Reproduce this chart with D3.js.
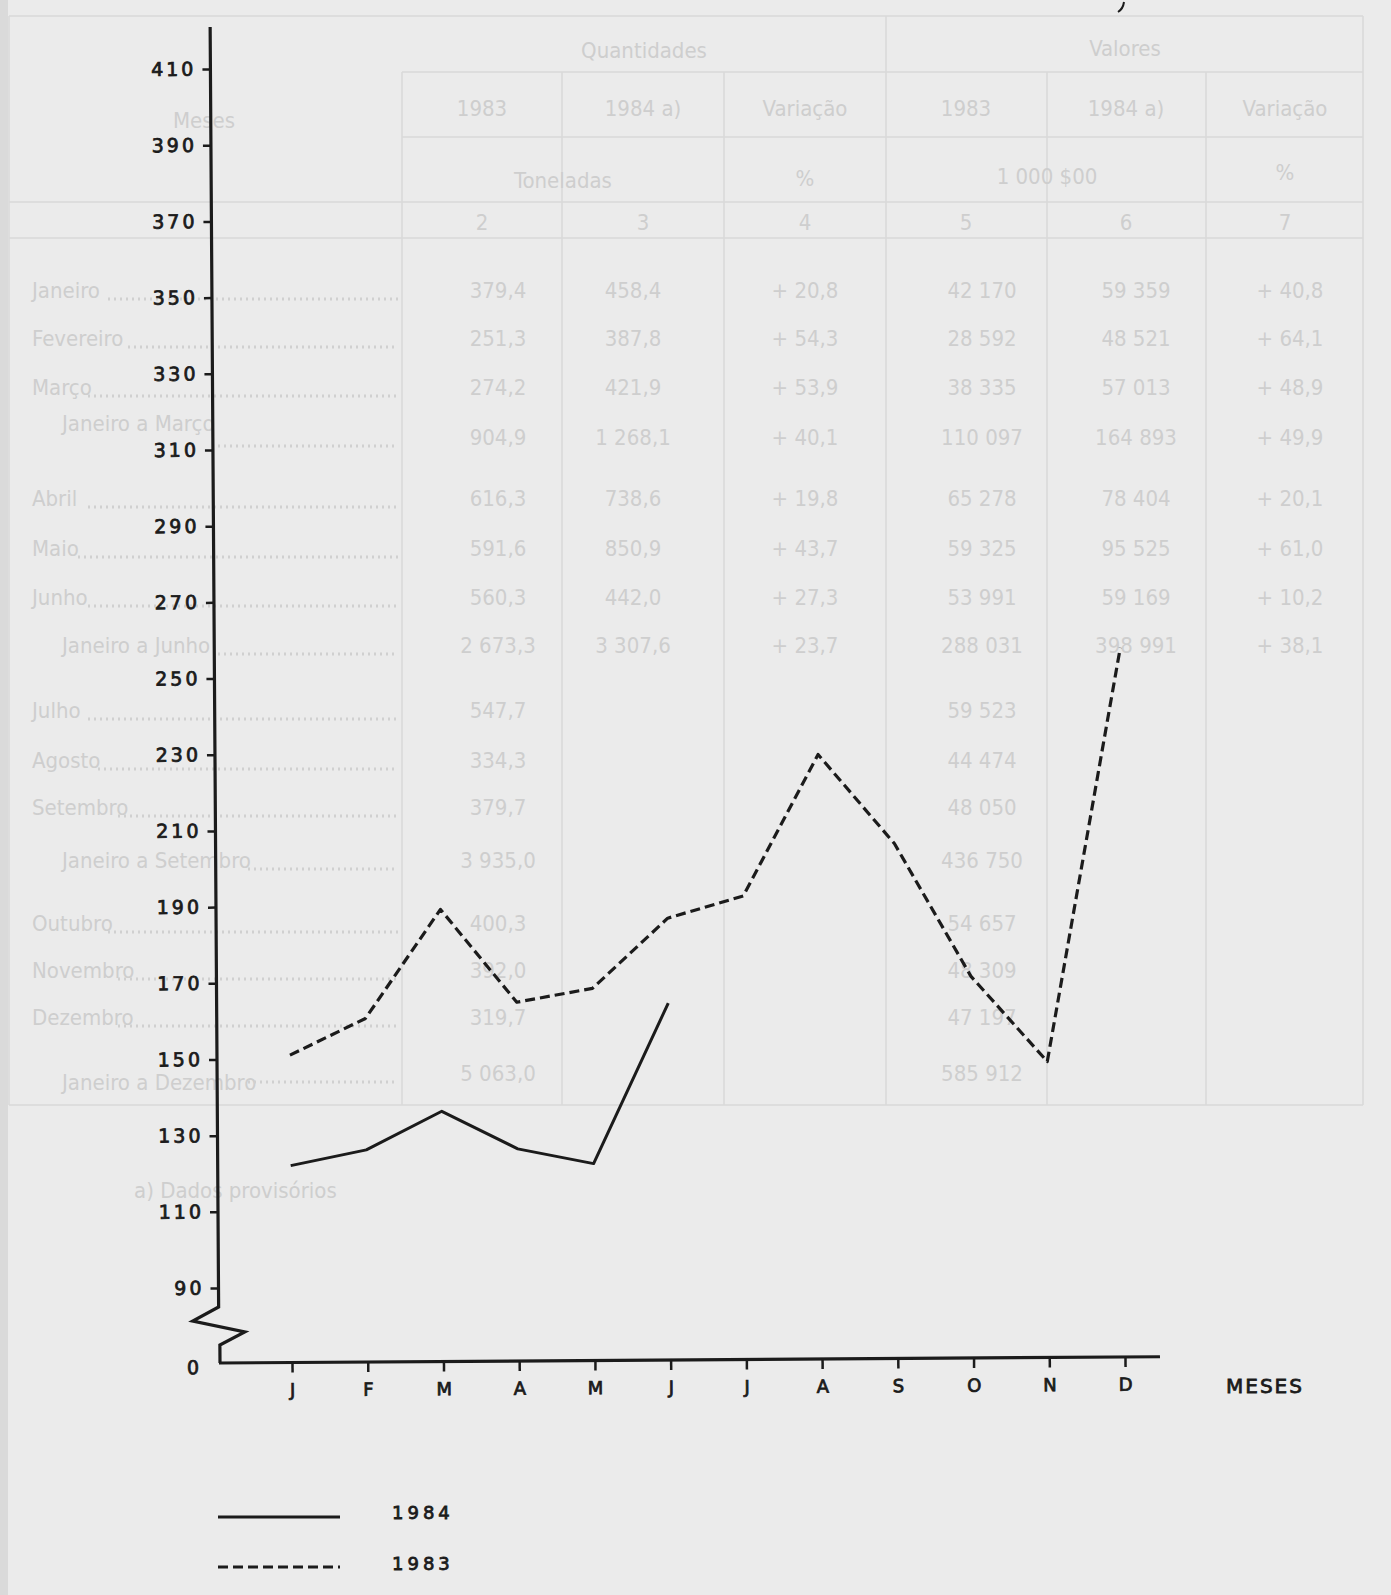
<!DOCTYPE html>
<html>
<head>
<meta charset="utf-8">
<script src="https://cdn.jsdelivr.net/npm/d3@7"></script>
<style>
  html, body { margin: 0; padding: 0; background: #ebebeb; }
  svg { display: block; }
</style>
</head>
<body>
<svg id="chart" width="1391" height="1595"></svg>
<script>
// ---------- chart data ----------
const months = ["J","F","M","A","M","J","J","A","S","O","N","D"];
const values1983 = [151, 160.5, 189, 164.5, 168, 186.3, 192, 229, 205.5, 170.5, 148, 256.5];
const values1984 = [122, 126, 136, 126, 122, 164];
const yTicks = [410, 390, 370, 350, 330, 310, 290, 270, 250, 230, 210, 190, 170, 150, 130, 110, 90, 0];
const legendLabels = ["1984", "1983"];
const xTitle = "MESES";

// ---------- ghost (show-through) table ----------
const ghostColHeads = ["1983", "1984 a)", "Variação", "1983", "1984 a)", "Variação"];
const ghostGroupHeads = ["Quantidades", "Valores"];
const ghostUnits = ["Toneladas", "%", "1 000 $00", "%"];
const ghostColNums = ["2", "3", "4", "5", "6", "7"];
const ghostRowLabels = ["Janeiro", "Fevereiro", "Março", "  Janeiro a Março", "Abril", "Maio", "Junho",
  "  Janeiro a Junho", "Julho", "Agosto", "Setembro", "  Janeiro a Setembro", "Outubro", "Novembro",
  "Dezembro", "  Janeiro a Dezembro"];
const ghostCells = [
  ["379,4", "458,4", "+ 20,8", "42 170", "59 359", "+ 40,8"],
  ["251,3", "387,8", "+ 54,3", "28 592", "48 521", "+ 64,1"],
  ["274,2", "421,9", "+ 53,9", "38 335", "57 013", "+ 48,9"],
  ["904,9", "1 268,1", "+ 40,1", "110 097", "164 893", "+ 49,9"],
  ["616,3", "738,6", "+ 19,8", "65 278", "78 404", "+ 20,1"],
  ["591,6", "850,9", "+ 43,7", "59 325", "95 525", "+ 61,0"],
  ["560,3", "442,0", "+ 27,3", "53 991", "59 169", "+ 10,2"],
  ["2 673,3", "3 307,6", "+ 23,7", "288 031", "398 991", "+ 38,1"],
  ["547,7", "", "", "59 523", "", ""],
  ["334,3", "", "", "44 474", "", ""],
  ["379,7", "", "", "48 050", "", ""],
  ["3 935,0", "", "", "436 750", "", ""],
  ["400,3", "", "", "54 657", "", ""],
  ["392,0", "", "", "48 309", "", ""],
  ["319,7", "", "", "47 197", "", ""],
  ["5 063,0", "", "", "585 912", "", ""]
];
const ghostFootnote = "a) Dados provisórios";

const svg = d3.select("#chart");

// background
svg.append("rect").attr("width", 1391).attr("height", 1595).attr("fill", "#ebebeb");
svg.append("rect").attr("width", 8).attr("height", 1595).attr("fill", "#dadada");

// ---------- ghost table ----------
const ghost = svg.append("g").attr("fill", "#cecece").attr("stroke", "none");
const colEdges = [9, 402, 562, 724, 886, 1047, 1206, 1363];
const gl = ghost.append("g").attr("stroke", "#d9d9d9").attr("stroke-width", 1.5);
colEdges.forEach((x, i) => {
  gl.append("line").attr("x1", x).attr("x2", x)
    .attr("y1", i === 0 || i === 7 || i === 4 ? 16 : 72).attr("y2", 1105);
});
[[9, 1363, 16], [402, 1363, 72], [402, 1363, 137], [9, 1363, 202], [9, 1363, 238], [9, 1363, 1105]]
  .forEach(([x1, x2, y]) => gl.append("line").attr("x1", x1).attr("x2", x2).attr("y1", y).attr("y2", y));

const gFont = "'Liberation Sans Narrow','DejaVu Sans Condensed','Liberation Sans',sans-serif";
const gText = (x, y, t, anchor) => ghost.append("text").attr("x", x).attr("y", y)
  .attr("text-anchor", anchor || "middle").attr("dominant-baseline", "central")
  .attr("font-family", gFont).attr("font-size", 22).attr("font-stretch", "condensed").text(t);

gText(204, 120, "Meses");
gText(644, 50, ghostGroupHeads[0]);
gText(1125, 48, ghostGroupHeads[1]);
const colCenters = [482, 643, 805, 966, 1126, 1285];
ghostColHeads.forEach((t, i) => gText(colCenters[i], 108, t));
gText(563, 180, ghostUnits[0]);
gText(805, 178, ghostUnits[1]);
gText(1047, 176, ghostUnits[2]);
gText(1285, 172, ghostUnits[3]);
ghostColNums.forEach((t, i) => gText(colCenters[i], 222, t));

const rowY = [290, 338, 387, 437, 498, 548, 597, 645, 710, 760, 807, 860, 923, 970, 1017, 1073];
const labelY = [290, 338, 387, 423, 498, 548, 597, 645, 710, 760, 807, 860, 923, 970, 1017, 1082];
const cellX = [498, 633, 805, 982, 1136, 1290];
ghostRowLabels.forEach((lab, r) => {
  const indent = lab.startsWith("  ") ? 62 : 32;
  const name = lab.trim();
  gText(indent, labelY[r], name, "start");
  // dotted leader
  const startX = indent + name.length * 10 + 6;
  ghost.append("line").attr("x1", startX).attr("x2", 398)
    .attr("y1", rowY[r] + 9).attr("y2", rowY[r] + 9)
    .attr("stroke", "#d0d0d0").attr("stroke-width", 3).attr("stroke-dasharray", "2,4");
  ghostCells[r].forEach((c, j) => { if (c) gText(cellX[j], rowY[r], c); });
});
gText(134, 1190, ghostFootnote, "start");

// ---------- chart ----------
const ink = "#1b1b1b";
const axisX = 219;
const y = d3.scaleLinear().domain([0, 90, 410]).range([1363, 1288, 69]);
const x = d3.scalePoint().domain(d3.range(12)).range([292, 1125]);

const chart = svg.append("g").attr("transform", `rotate(-0.38, ${axisX}, ${y(0)})`);

const labelStyle = sel => sel.attr("fill", ink).attr("stroke", ink).attr("stroke-width", 0.8)
  .attr("font-family", "'DejaVu Sans', sans-serif");

// y axis ticks and labels
const yAxis = d3.axisLeft(y).tickValues(yTicks).tickSize(8).tickPadding(14).tickFormat(d3.format("d"));
const yg = chart.append("g").attr("transform", `translate(${axisX},0)`).call(yAxis);
yg.select(".domain").remove();
yg.selectAll(".tick line").attr("stroke", ink).attr("stroke-width", 2.5)
  .filter(d => d === 0).remove();
yg.selectAll(".tick text").call(labelStyle)
  .attr("font-size", 19).attr("letter-spacing", 3)
  .attr("dy", d => d === 0 ? "0.55em" : "0.32em")
  .attr("x", d => d === 0 ? -17 : -14);

// y axis line with break
const breakTop = 1307;
const axisPath = [
  [axisX, 27], [axisX, breakTop], [axisX - 26, breakTop + 14], [axisX + 26, breakTop + 25],
  [axisX + 1, breakTop + 38], [axisX + 1, y(0)]
];
chart.append("path").attr("d", d3.line()(axisPath))
  .attr("fill", "none").attr("stroke", ink).attr("stroke-width", 3.2).attr("stroke-linejoin", "miter");

// x axis
chart.append("line").attr("x1", axisX).attr("x2", 1160).attr("y1", y(0)).attr("y2", y(0))
  .attr("stroke", ink).attr("stroke-width", 3.2);
const xAxis = d3.axisBottom(x).tickSize(10).tickPadding(11).tickFormat(i => months[i]);
const xg = chart.append("g").attr("transform", `translate(0,${y(0)})`).call(xAxis);
xg.select(".domain").remove();
xg.selectAll(".tick line").attr("stroke", ink).attr("stroke-width", 2.5);
xg.selectAll(".tick text").call(labelStyle).attr("font-size", 18);

// data lines
const line = d3.line().x((d, i) => x(i)).y(d => y(d));
chart.append("path").datum(values1983).attr("d", line)
  .attr("fill", "none").attr("stroke", ink).attr("stroke-width", 3.2)
  .attr("stroke-dasharray", "10,5").attr("stroke-linejoin", "round");
chart.append("path").datum(values1984).attr("d", line)
  .attr("fill", "none").attr("stroke", ink).attr("stroke-width", 3)
  .attr("stroke-linejoin", "round");

// x title (outside rotation)
svg.append("text").attr("x", 1226).attr("y", 1393).call(labelStyle)
  .attr("font-size", 20).attr("letter-spacing", 2)
  .text(xTitle);

// legend
const legend = svg.append("g");
[[1517, null, 1519], [1567, "10,5", 1570]].forEach(([ly, dash, ty], i) => {
  const l = legend.append("line").attr("x1", 218).attr("x2", 340).attr("y1", ly).attr("y2", ly)
    .attr("stroke", ink).attr("stroke-width", 3.2);
  if (dash) l.attr("stroke-dasharray", dash);
  legend.append("text").attr("x", 392).attr("y", ty).call(labelStyle)
    .attr("font-size", 18).attr("letter-spacing", 4)
    .text(legendLabels[i]);
});

// small pen mark at top right
svg.append("path").attr("d", "M1124,2 Q1123,9 1118,12").attr("fill", "none")
  .attr("stroke", ink).attr("stroke-width", 2);
</script>
</body>
</html>
